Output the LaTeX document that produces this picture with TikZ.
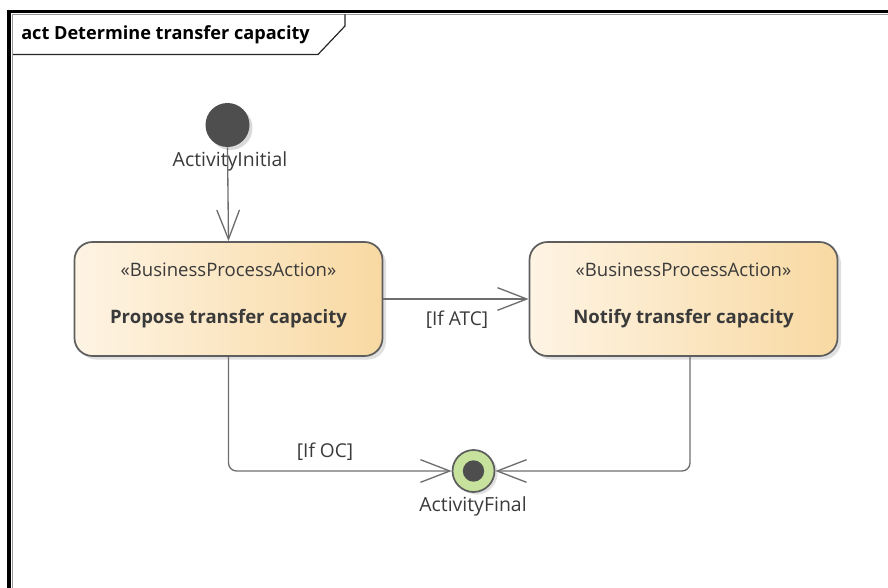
\documentclass[tikz,border=0pt]{standalone}
\usepackage{fontspec}
\setmainfont{Open Sans}
\usetikzlibrary{arrows.meta,calc}
\definecolor{boxleft}{HTML}{FEF4E4}
\definecolor{boxright}{HTML}{F8D9A2}
\definecolor{edge}{HTML}{5E5E5E}
\definecolor{wire}{HTML}{6E6E6E}
\definecolor{finalfill}{HTML}{C6E29C}
\definecolor{dot}{HTML}{4E4E4E}
\definecolor{txt}{HTML}{3A3A3A}
\tikzset{
  actbox/.style={rounded corners=13.5pt, draw=edge, line width=1.3pt,
    left color=boxleft, right color=boxright,
    minimum width=231pt, minimum height=85.5pt, inner sep=0pt},
  boxshadow/.style={rounded corners=13.5pt, fill=black, opacity=0.12,
    minimum width=231pt, minimum height=85.5pt, inner sep=0pt},
  stereo/.style={font=\fontsize{13.9}{16}\selectfont, text=txt, inner sep=0pt},
  actname/.style={font=\fontsize{13.9}{16}\selectfont\bfseries, text=txt, inner sep=0pt},
  flowlabel/.style={font=\fontsize{14.3}{17}\selectfont, text=txt, inner sep=0pt},
  nodelabel/.style={font=\fontsize{14.6}{17}\selectfont, text=txt, inner sep=0pt},
  flow/.style={draw=wire, line width=1pt,
    -{Straight Barb[length=22pt,width=17pt,line width=1pt]}},
}
\begin{document}
\begin{tikzpicture}[x=0.75pt,y=-0.75pt]
\useasboundingbox (0,0) rectangle (888,588);
% diagram frame
\draw[line width=2.4pt, black] (9,600) -- (9,11.5) -- (900,11.5);
\draw[line width=0.8pt, black!40] (12.5,600) -- (12.5,14.5) -- (900,14.5);
% title tab
\draw[line width=0.9pt, black!85] (13,54.5) -- (318,54.5) -- (345,26) -- (345,14.5);
\node[anchor=west, inner sep=0pt, font=\fontsize{13.6}{16}\selectfont\bfseries]
  (title) at (21,35) {act Determine transfer capacity};

% initial node
\fill[black, opacity=0.15] (230.5,128) circle (22);
\node[circle, fill=dot, minimum size=33pt, inner sep=0pt] (init) at (227.5,125) {};
\node[nodelabel] (initlabel) at (230,161) {ActivityInitial};

% actions
\node[boxshadow] (proposeshadow) at (232,302.5) {};
\node[boxshadow] (notifyshadow) at (687,302.5) {};
\node[actbox] (propose) at (228.5,299) {};
\node[actbox] (notify) at (683.5,299) {};
\node[stereo] (proposest) at ($(propose.center)+(0,-29)$) {«BusinessProcessAction»};
\node[actname] (proposename) at ($(propose.center)+(0,20)$) {Propose transfer capacity};
\node[stereo] (notifyst) at ($(notify.center)+(0,-29)$) {«BusinessProcessAction»};
\node[actname] (notifyname) at ($(notify.center)+(0,20)$) {Notify transfer capacity};

% final node
\fill[black, opacity=0.12] (476.5,473.5) circle (21);
\node[circle, draw=edge, line width=1.3pt, fill=finalfill, minimum size=31.5pt, inner sep=0pt] (final) at (473.5,471) {};
\node[circle, fill=dot, minimum size=16pt, inner sep=0pt] (finaldot) at (final.center) {};
\node[nodelabel] (finallabel) at (473,506) {ActivityFinal};

% control flows
\draw[flow] (init.south) -- (propose.north);
\draw[flow] (propose.east) -- (notify.west);
\node[flowlabel] (atc) at (457,320) {[If ATC]};
\draw[flow, rounded corners=6pt] (propose.south) |- (final.west);
\node[flowlabel] (oc) at (325,452) {[If OC]};
\draw[flow, rounded corners=6pt] ($(notify.south)+(6.5,0)$) |- (final.east);
\end{tikzpicture}
\end{document}
